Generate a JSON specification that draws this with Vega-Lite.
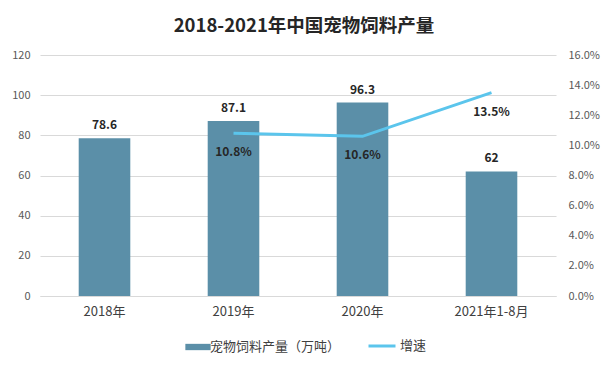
{
  "$schema": "https://vega.github.io/schema/vega-lite/v6.json",
  "autosize": "none",
  "width": 516,
  "height": 241,
  "padding": {"left": 40, "top": 55, "right": 55, "bottom": 72},
  "background": "white",
  "title": {
    "text": "2018-2021年中国宠物饲料产量",
    "font": "Noto Sans CJK SC",
    "fontSize": 18.5,
    "fontWeight": "bold",
    "color": "#262626",
    "offset": 14,
    "dx": 6
  },
  "config": {
    "view": {"stroke": null},
    "font": "Noto Sans CJK SC",
    "axis": {"labelColor": "#595959", "labelFont": "Noto Sans CJK SC", "labelFontSize": 11, "ticks": false, "domain": false, "title": null, "gridColor": "#d9d9d9"}
  },
  "data": {
    "values": [
      {"year": "2018年", "output": 78.6, "growth": null, "series": "宠物饲料产量（万吨）", "gseries": "增速"},
      {"year": "2019年", "output": 87.1, "growth": 0.108, "series": "宠物饲料产量（万吨）", "gseries": "增速"},
      {"year": "2020年", "output": 96.3, "growth": 0.106, "series": "宠物饲料产量（万吨）", "gseries": "增速"},
      {"year": "2021年1-8月", "output": 62, "growth": 0.135, "series": "宠物饲料产量（万吨）", "gseries": "增速"}
    ]
  },
  "encoding": {
    "x": {
      "field": "year", "type": "nominal", "sort": null,
      "scale": {"paddingInner": 0.6, "paddingOuter": 0.3},
      "axis": {"labelAngle": 0, "labelFontSize": 13, "labelColor": "#404040", "labelPadding": 9, "domain": true, "domainColor": "#d9d9d9", "grid": false}
    }
  },
  "layer": [
    {
      "encoding": {
        "y": {"field": "output", "type": "quantitative", "scale": {"domain": [0, 120]},
          "axis": {"values": [0, 20, 40, 60, 80, 100, 120], "labelPadding": 10, "grid": true}}
      },
      "layer": [
        {
          "mark": {"type": "bar", "color": "#5b8fa8"},
          "encoding": {
            "fill": {"field": "series", "type": "nominal", "scale": {"range": ["#5b8fa8"]},
              "legend": {"orient": "none", "legendX": 149, "legendY": 283, "title": null, "symbolType": "M-1.6,-0.4H1.6V0.4H-1.6Z", "symbolSize": 250, "labelFontSize": 13, "labelColor": "#404040", "labelOffset": 3}}
          }
        },
        {
          "mark": {"type": "text", "dy": -13, "fontWeight": "bold", "fontSize": 12, "color": "#262626"},
          "encoding": {
            "text": {"field": "output", "type": "quantitative"}
          }
        }
      ]
    },
    {
      "transform": [{"filter": "datum.growth != null"}],
      "encoding": {
        "y": {"field": "growth", "type": "quantitative", "scale": {"domain": [0, 0.16]},
          "axis": {"orient": "right", "format": ".1%", "values": [0, 0.02, 0.04, 0.06, 0.08, 0.1, 0.12, 0.14, 0.16], "labelPadding": 12, "grid": false}}
      },
      "layer": [
        {
          "mark": {"type": "line", "strokeWidth": 3, "color": "#5bc5ec"},
          "encoding": {
            "stroke": {"field": "gseries", "type": "nominal", "scale": {"range": ["#5bc5ec"]},
              "legend": {"orient": "none", "legendX": 327, "legendY": 276, "title": null, "symbolType": "stroke", "symbolStrokeWidth": 3, "symbolSize": 729, "labelFontSize": 13, "labelColor": "#404040", "labelOffset": 3}}
          }
        },
        {
          "mark": {"type": "text", "dy": 19, "fontWeight": "bold", "fontSize": 12, "color": "#262626"},
          "encoding": {
            "text": {"field": "growth", "type": "quantitative", "format": ".1%"}
          }
        }
      ]
    }
  ],
  "resolve": {"scale": {"y": "independent"}}
}
